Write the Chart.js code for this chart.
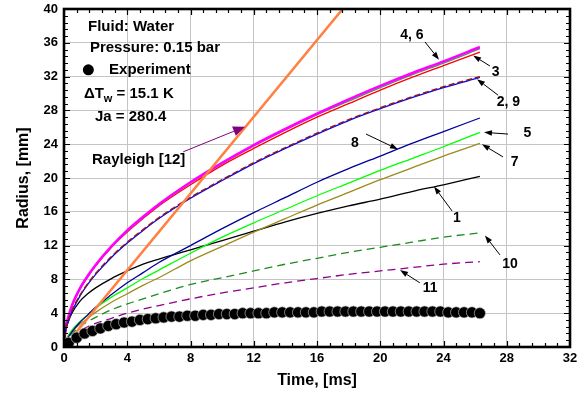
<!DOCTYPE html>
<html>
<head>
<meta charset="utf-8">
<script src="https://cdn.jsdelivr.net/npm/chart.js@4/dist/chart.umd.min.js"></script>
<style>
  html, body { margin: 0; padding: 0; background: #fff; }
  #wrap { width: 579px; height: 396px; }
</style>
</head>
<body>
<div id="wrap"><canvas id="c" width="579" height="396"></canvas></div>
<script>
// Bubble growth in water at 0.15 bar: model radius curves versus time.
const timeMs = [0, 0.1, 0.25, 0.5, 1, 1.5, 2, 3, 4, 5, 6, 8, 10, 12, 14, 16, 18, 20, 22, 24, 26.3];

const radius1  = [0, 1.8, 2.9, 4.0, 5.4, 6.3, 7.0, 8.1, 9.0, 9.8, 10.4, 11.5, 12.6, 13.7, 14.8, 15.8, 16.7, 17.5, 18.4, 19.2, 20.2];
const radius2  = [0, 1.9, 2.9, 4.2, 6.0, 7.4, 8.6, 10.6, 12.3, 13.8, 15.2, 17.6, 19.7, 21.7, 23.5, 25.2, 26.8, 28.2, 29.5, 30.7, 31.9];
const radius3  = [0, 2.1, 3.3, 4.8, 6.8, 8.3, 9.6, 11.8, 13.6, 15.2, 16.7, 19.2, 21.5, 23.5, 25.4, 27.2, 28.8, 30.4, 31.9, 33.3, 34.9];
const radius4  = [0, 2.2, 3.4, 4.9, 6.9, 8.4, 9.7, 11.9, 13.8, 15.4, 16.9, 19.5, 21.8, 23.9, 25.8, 27.6, 29.3, 30.9, 32.4, 33.8, 35.5];
const radius5  = [0, 0.8, 1.3, 2.0, 3.0, 3.8, 4.6, 5.9, 7.0, 8.1, 9.1, 11.1, 13.0, 14.7, 16.3, 17.9, 19.4, 20.9, 22.3, 23.7, 25.4];
const radius6  = [0, 2.2, 3.4, 4.9, 6.9, 8.4, 9.7, 11.9, 13.7, 15.3, 16.8, 19.4, 21.7, 23.8, 25.7, 27.5, 29.1, 30.7, 32.2, 33.6, 35.3];
const radius7  = [0, 0.7, 1.2, 1.8, 2.7, 3.4, 4.1, 5.3, 6.3, 7.3, 8.2, 10.2, 11.9, 13.6, 15.2, 16.8, 18.3, 19.8, 21.2, 22.6, 24.1];
const radius8  = [0, 0.6, 1.1, 1.8, 2.9, 3.8, 4.7, 6.2, 7.6, 8.8, 10.0, 12.0, 14.0, 15.9, 17.7, 19.5, 21.1, 22.6, 24.1, 25.5, 27.1];
const radius9  = [0, 1.9, 3.0, 4.3, 6.1, 7.5, 8.7, 10.7, 12.4, 13.9, 15.3, 17.7, 19.8, 21.8, 23.6, 25.3, 26.9, 28.3, 29.6, 30.8, 32.0];
const radius10 = [0, 0.6, 1.1, 1.6, 2.4, 3.0, 3.5, 4.4, 5.1, 5.7, 6.3, 7.4, 8.2, 9.0, 9.8, 10.5, 11.2, 11.8, 12.4, 13.0, 13.5];
const radius11 = [0, 0.5, 0.9, 1.3, 1.9, 2.4, 2.8, 3.4, 4.0, 4.5, 4.9, 5.7, 6.4, 7.0, 7.6, 8.1, 8.6, 9.0, 9.4, 9.8, 10.1];

// Rayleigh solution: linear growth
const rayleighTime   = [0, 20];
const rayleighRadius = [0, 45.4];

// Measured bubble radius
const expTime = [0.3, 0.8, 1.3, 1.8, 2.3, 2.8, 3.3, 3.8, 4.3, 4.8, 5.3, 5.8, 6.3, 6.8, 7.3, 7.8, 8.3, 8.8,
                 9.3, 9.8, 10.3, 10.8, 11.3, 11.8, 12.3, 12.8, 13.3, 13.8, 14.3, 14.8, 15.3, 15.8, 16.3, 16.8,
                 17.3, 17.8, 18.3, 18.8, 19.3, 19.8, 20.3, 20.8, 21.3, 21.8, 22.3, 22.8, 23.3, 23.8, 24.3, 24.8,
                 25.3, 25.8, 26.3];
const expRadius = [0.5, 1.1, 1.6, 1.9, 2.2, 2.5, 2.7, 2.9, 3.0, 3.2, 3.3, 3.4, 3.5, 3.6, 3.6, 3.7, 3.7, 3.8,
                   3.8, 3.9, 3.9, 3.9, 4.0, 4.0, 4.0, 4.0, 4.1, 4.1, 4.1, 4.1, 4.1, 4.1, 4.2, 4.2,
                   4.2, 4.2, 4.2, 4.2, 4.2, 4.2, 4.2, 4.2, 4.2, 4.2, 4.2, 4.2, 4.2, 4.2, 4.1, 4.1,
                   4.1, 4.1, 4.0];

// Axis ranges and tick steps
const xRange = [0, 32], xMajor = 4, xMinor = 0.8;
const yRange = [0, 40], yMajor = 4, yMinor = 0.8;

// Curve labels: text position and arrow (tail -> tip), in data units
const curveLabels = [
  { text: '4, 6', at: [22.0, 36.9], from: [22.83, 36.1], to: [23.72, 34.0] },
  { text: '3',    at: [27.3, 32.5], from: [26.94, 33.25], to: [25.87, 34.5] },
  { text: '2, 9', at: [28.1, 29.0], from: [27.45, 29.8], to: [26.12, 31.7] },
  { text: '5',    at: [29.3, 25.3], from: [28.08, 25.2], to: [26.56, 25.4] },
  { text: '7',    at: [28.5, 21.9], from: [27.76, 22.5], to: [26.43, 24.0] },
  { text: '8',    at: [18.4, 24.1], from: [19.1, 25.2], to: [21.12, 23.4] },
  { text: '1',    at: [24.85, 15.3], from: [24.54, 16.1], to: [23.4, 19.0] },
  { text: '10',   at: [28.2, 9.8], from: [27.57, 10.9], to: [26.62, 13.2] },
  { text: '11',   at: [23.15, 7.0], from: [22.5, 7.6], to: [21.25, 9.1] }
];

const FONT = '"Liberation Sans", Arial, Helvetica, sans-serif';

function pts(t, r) { return t.map((v, i) => ({ x: v, y: r[i] })); }

function curve(data, color, width, order, dash) {
  return {
    data, showLine: true, borderColor: color, backgroundColor: color,
    borderWidth: width, pointRadius: 0, pointHoverRadius: 0, fill: false,
    cubicInterpolationMode: 'monotone', borderDash: dash || [], order
  };
}

const datasets = [
  { data: pts(expTime, expRadius), showLine: false, pointRadius: 5.6, pointBackgroundColor: '#000',
    pointBorderColor: 'rgba(200,200,200,0.9)', pointBorderWidth: 0.7, order: 0 },
  curve(pts(rayleighTime, rayleighRadius), '#ff8040', 2.5, 1),
  curve(pts(timeMs, radius9), '#8b1a1a', 1.5, 2, [6, 3]),
  curve(pts(timeMs, radius2), '#0000ff', 1.3, 3),
  curve(pts(timeMs, radius4), '#ff00ff', 2.6, 4),
  curve(pts(timeMs, radius6), '#3c9a5f', 1.3, 5),
  curve(pts(timeMs, radius3), '#ff0000', 1.3, 6),
  curve(pts(timeMs, radius8), '#000099', 1.3, 7),
  curve(pts(timeMs, radius5), '#00ff00', 1.3, 8),
  curve(pts(timeMs, radius7), '#9c8a1c', 1.3, 9),
  curve(pts(timeMs, radius1), '#000000', 1.3, 10),
  curve(pts(timeMs, radius10), '#1f8a1f', 1.3, 11, [8, 5]),
  curve(pts(timeMs, radius11), '#8b008b', 1.3, 12, [8, 5])
];

function arrow(ctx, x1, y1, x2, y2, color, lw, headLen, headW) {
  const a = Math.atan2(y2 - y1, x2 - x1);
  const bx = x2 - headLen * Math.cos(a), by = y2 - headLen * Math.sin(a);
  ctx.save();
  ctx.strokeStyle = color; ctx.fillStyle = color; ctx.lineWidth = lw;
  ctx.beginPath(); ctx.moveTo(x1, y1); ctx.lineTo(bx, by); ctx.stroke();
  ctx.beginPath();
  ctx.moveTo(x2, y2);
  ctx.lineTo(bx + headW / 2 * Math.sin(a), by - headW / 2 * Math.cos(a));
  ctx.lineTo(bx - headW / 2 * Math.sin(a), by + headW / 2 * Math.cos(a));
  ctx.closePath(); ctx.fill();
  ctx.restore();
}

// Box frame with inward major/minor ticks on all four sides
const framePlugin = {
  id: 'frame',
  afterDatasetsDraw(chart) {
    const { ctx, chartArea: a, scales: { x, y } } = chart;
    ctx.save();
    ctx.strokeStyle = '#000';
    ctx.lineWidth = 1.2;
    ctx.beginPath();
    const nx = Math.round((xRange[1] - xRange[0]) / xMinor);
    for (let i = 1; i < nx; i++) {
      const v = xRange[0] + i * xMinor;
      const len = (i % 5 === 0) ? 6 : 4;
      const px = Math.round(x.getPixelForValue(v)) + 0.5;
      ctx.moveTo(px, a.bottom); ctx.lineTo(px, a.bottom - len);
      ctx.moveTo(px, a.top); ctx.lineTo(px, a.top + len);
    }
    const ny = Math.round((yRange[1] - yRange[0]) / yMinor);
    for (let i = 1; i < ny; i++) {
      const v = yRange[0] + i * yMinor;
      const len = (i % 5 === 0) ? 6 : 4;
      const py = Math.round(y.getPixelForValue(v)) + 0.5;
      ctx.moveTo(a.left, py); ctx.lineTo(a.left + len, py);
      ctx.moveTo(a.right, py); ctx.lineTo(a.right - len, py);
    }
    ctx.stroke();
    ctx.lineWidth = 2.6;
    ctx.strokeRect(a.left, a.top, a.right - a.left, a.bottom - a.top);
    ctx.restore();
  }
};

// Text block, Rayleigh pointer and curve number labels
const notesPlugin = {
  id: 'notes',
  afterDraw(chart) {
    const { ctx, scales: { x, y } } = chart;
    const X = v => x.getPixelForValue(v), Y = v => y.getPixelForValue(v);
    ctx.save();
    ctx.fillStyle = '#000';
    ctx.textBaseline = 'middle';
    ctx.textAlign = 'left';
    ctx.font = 'bold 15px ' + FONT;
    ctx.fillText('Fluid: Water', X(1.52), Y(37.9));
    ctx.fillText('Pressure: 0.15 bar', X(1.64), Y(35.35));
    ctx.beginPath(); ctx.arc(X(1.54), Y(32.8), 5.5, 0, Math.PI * 2); ctx.fill();
    ctx.fillText('Experiment', X(2.85), Y(32.8));
    // ΔT with subscript w
    let tx = X(1.26); const ty = Y(30.0);
    ctx.fillText('\u0394T', tx, ty);
    tx += ctx.measureText('\u0394T').width;
    ctx.font = 'bold 11px ' + FONT;
    ctx.fillText('w', tx, ty + 5);
    tx += ctx.measureText('w').width;
    ctx.font = 'bold 15px ' + FONT;
    ctx.fillText(' = 15.1 K', tx, ty);
    ctx.fillText('Ja = 280.4', X(1.96), Y(27.25));
    ctx.fillText('Rayleigh [12]', X(1.77), Y(22.2));
    arrow(ctx, X(7.54), Y(23.1), X(11.45), Y(26.07), '#800080', 1, 12, 10);

    ctx.font = 'bold 14px ' + FONT;
    ctx.textAlign = 'center';
    for (const l of curveLabels) {
      ctx.fillText(l.text, X(l.at[0]), Y(l.at[1]));
      arrow(ctx, X(l.from[0]), Y(l.from[1]), X(l.to[0]), Y(l.to[1]), '#000', 1, 8, 5.5);
    }
    ctx.restore();
  }
};

Chart.defaults.font.family = FONT;

new Chart(document.getElementById('c'), {
  type: 'scatter',
  data: { datasets },
  options: {
    responsive: false,
    devicePixelRatio: 1,
    animation: false,
    events: [],
    layout: { padding: { top: 9, right: 9, left: 0, bottom: 0 } },
    plugins: { legend: { display: false }, tooltip: { enabled: false } },
    scales: {
      x: {
        type: 'linear', min: xRange[0], max: xRange[1],
        ticks: { stepSize: xMajor, color: '#000', font: { size: 13, weight: 'bold' }, padding: 4, maxRotation: 0, autoSkip: false },
        grid: { color: '#c4c4c4', lineWidth: 1, drawTicks: false },
        border: { display: false },
        title: { display: true, text: 'Time, [ms]', color: '#000', font: { size: 16, weight: 'bold' }, padding: { top: 0, bottom: 6 } },
        afterFit(s) { s.height = 49; s.paddingLeft = 0; s.paddingRight = 0; }
      },
      y: {
        type: 'linear', min: yRange[0], max: yRange[1],
        ticks: { stepSize: yMajor, color: '#000', font: { size: 13, weight: 'bold' }, padding: 6, autoSkip: false },
        grid: { color: '#c4c4c4', lineWidth: 1, drawTicks: false },
        border: { display: false },
        title: { display: true, text: 'Radius, [mm]', color: '#000', font: { size: 16, weight: 'bold' }, padding: { top: 14, bottom: 0 } },
        afterFit(s) { s.width = 64; s.paddingTop = 0; s.paddingBottom = 0; }
      }
    }
  },
  plugins: [framePlugin, notesPlugin]
});
</script>
</body>
</html>
